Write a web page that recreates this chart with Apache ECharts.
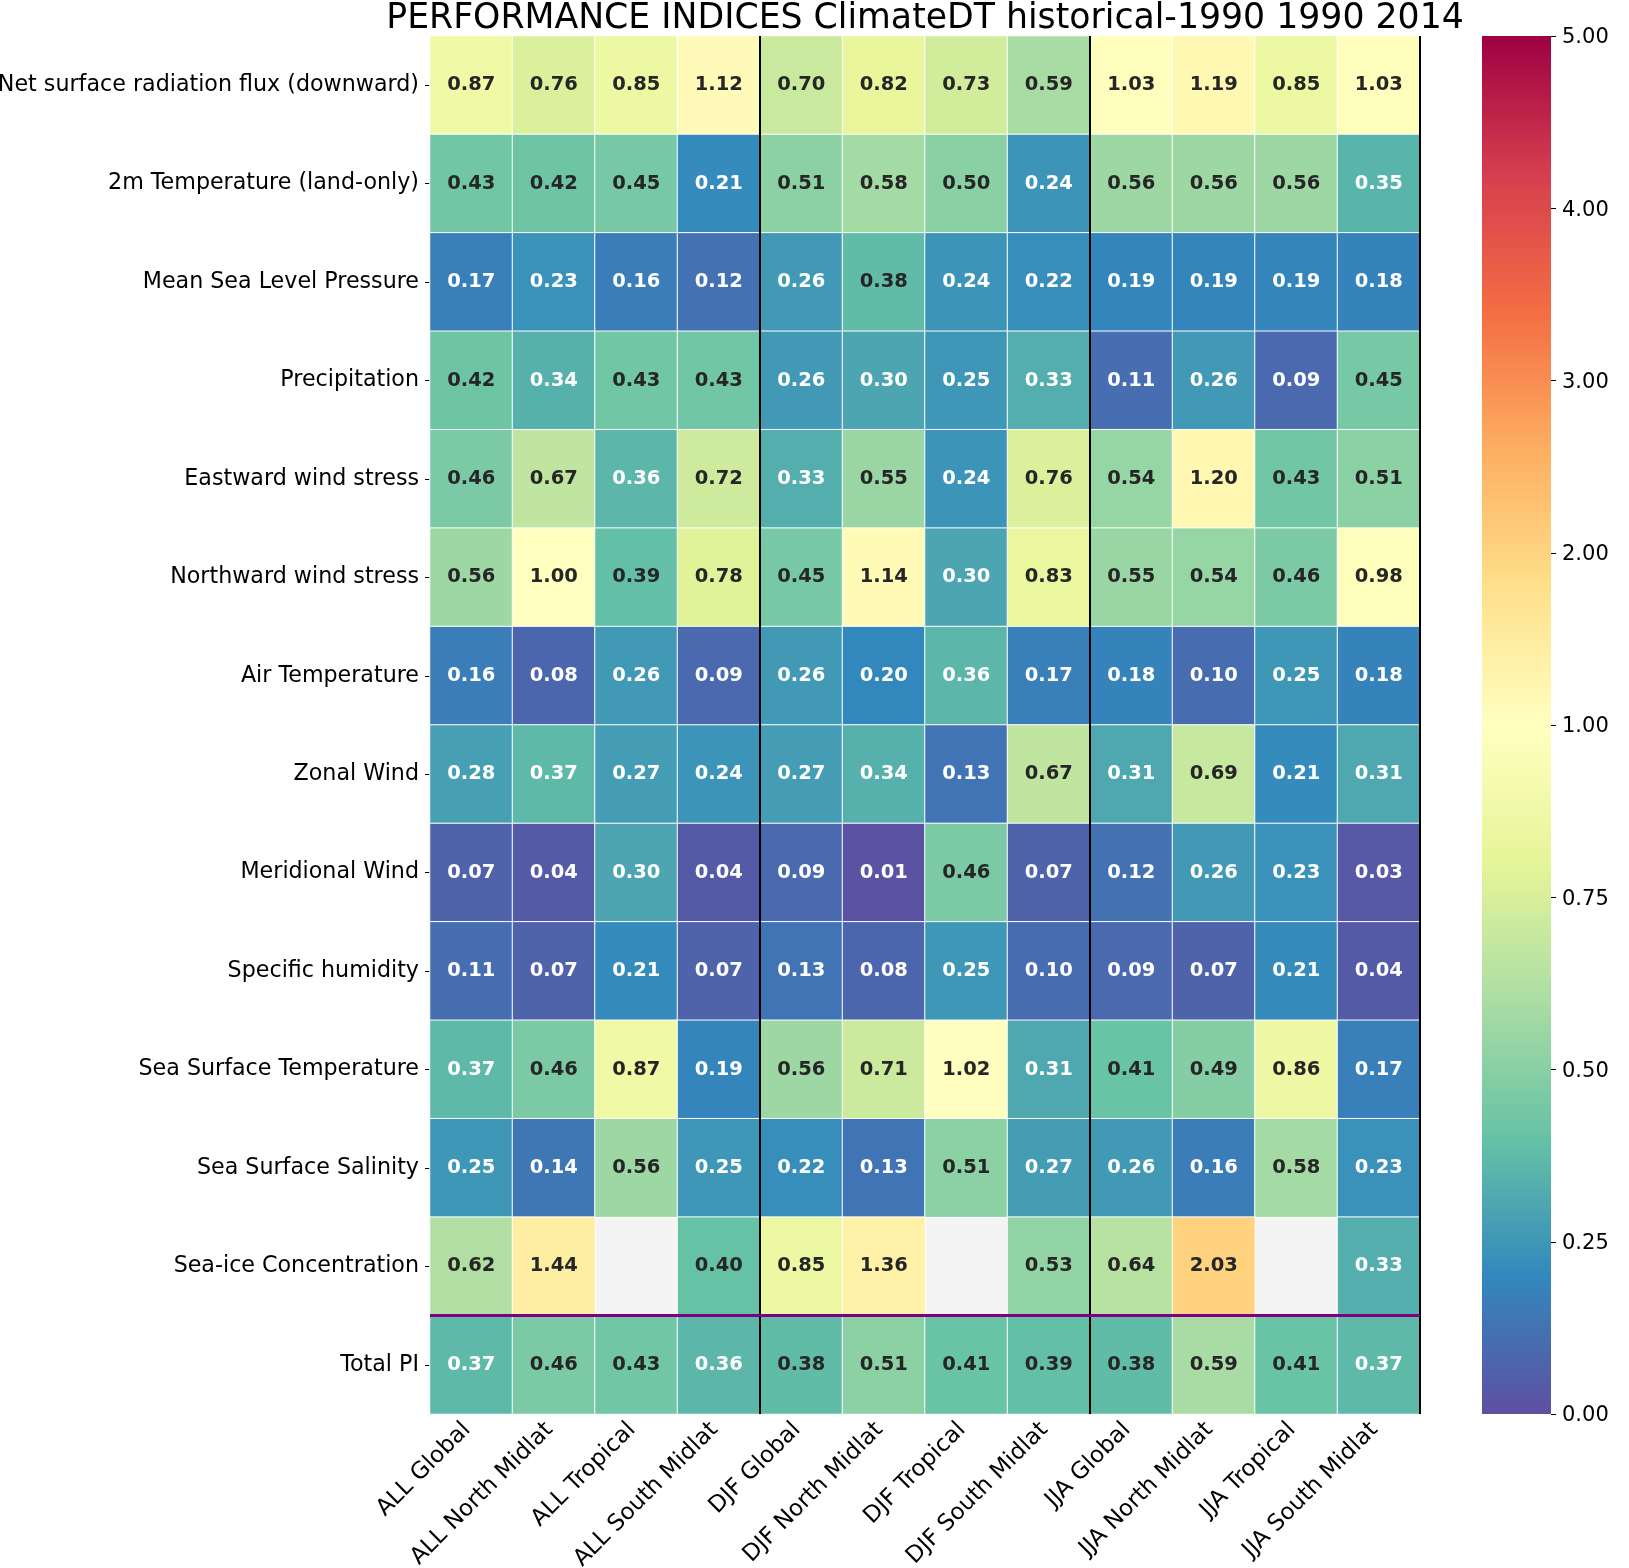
<!DOCTYPE html>
<html>
<head>
<meta charset="utf-8">
<title>Performance indices</title>
<script src="https://cdn.jsdelivr.net/npm/echarts@6/dist/echarts.min.js"></script>
<style>
  html, body { margin: 0; padding: 0; background: #fff; }
  #main { width: 1629px; height: 1568px; }
</style>
</head>
<body>
<div id="main"></div>
<script>
const chartTitle = 'PERFORMANCE INDICES ClimateDT historical-1990 1990 2014';

const columns = [
  'ALL Global', 'ALL North Midlat', 'ALL Tropical', 'ALL South Midlat',
  'DJF Global', 'DJF North Midlat', 'DJF Tropical', 'DJF South Midlat',
  'JJA Global', 'JJA North Midlat', 'JJA Tropical', 'JJA South Midlat'
];
const variables = [
  'Net surface radiation flux (downward)', '2m Temperature (land-only)',
  'Mean Sea Level Pressure', 'Precipitation', 'Eastward wind stress',
  'Northward wind stress', 'Air Temperature', 'Zonal Wind', 'Meridional Wind',
  'Specific humidity', 'Sea Surface Temperature', 'Sea Surface Salinity',
  'Sea-ice Concentration', 'Total PI'
];

const netRadiation = [0.87, 0.76, 0.85, 1.12, 0.70, 0.82, 0.73, 0.59, 1.03, 1.19, 0.85, 1.03];
const temperature2m = [0.43, 0.42, 0.45, 0.21, 0.51, 0.58, 0.50, 0.24, 0.56, 0.56, 0.56, 0.35];
const seaLevelPressure = [0.17, 0.23, 0.16, 0.12, 0.26, 0.38, 0.24, 0.22, 0.19, 0.19, 0.19, 0.18];
const precipitation = [0.42, 0.34, 0.43, 0.43, 0.26, 0.30, 0.25, 0.33, 0.11, 0.26, 0.09, 0.45];
const eastwardStress = [0.46, 0.67, 0.36, 0.72, 0.33, 0.55, 0.24, 0.76, 0.54, 1.20, 0.43, 0.51];
const northwardStress = [0.56, 1.00, 0.39, 0.78, 0.45, 1.14, 0.30, 0.83, 0.55, 0.54, 0.46, 0.98];
const airTemperature = [0.16, 0.08, 0.26, 0.09, 0.26, 0.20, 0.36, 0.17, 0.18, 0.10, 0.25, 0.18];
const zonalWind = [0.28, 0.37, 0.27, 0.24, 0.27, 0.34, 0.13, 0.67, 0.31, 0.69, 0.21, 0.31];
const meridionalWind = [0.07, 0.04, 0.30, 0.04, 0.09, 0.01, 0.46, 0.07, 0.12, 0.26, 0.23, 0.03];
const specificHumidity = [0.11, 0.07, 0.21, 0.07, 0.13, 0.08, 0.25, 0.10, 0.09, 0.07, 0.21, 0.04];
const seaSurfaceTemp = [0.37, 0.46, 0.87, 0.19, 0.56, 0.71, 1.02, 0.31, 0.41, 0.49, 0.86, 0.17];
const seaSurfaceSalinity = [0.25, 0.14, 0.56, 0.25, 0.22, 0.13, 0.51, 0.27, 0.26, 0.16, 0.58, 0.23];
const seaIce = [0.62, 1.44, null, 0.40, 0.85, 1.36, null, 0.53, 0.64, 2.03, null, 0.33];
const totalPI = [0.37, 0.46, 0.43, 0.36, 0.38, 0.51, 0.41, 0.39, 0.38, 0.59, 0.41, 0.37];

const rows = [
  netRadiation, temperature2m, seaLevelPressure, precipitation, eastwardStress,
  northwardStress, airTemperature, zonalWind, meridionalWind, specificHumidity,
  seaSurfaceTemp, seaSurfaceSalinity, seaIce, totalPI
];

// season separators and the line above the total row, in cell units
const seasonEdges = [4, 8, 12];
const totalEdge = 13;

const colorbarTicks = ['0.00', '0.25', '0.50', '0.75', '1.00', '2.00', '3.00', '4.00', '5.00'];

// Spectral_r
const spectral = ['#5e4fa2', '#3288bd', '#66c2a5', '#abdda4', '#e6f598', '#ffffbf',
  '#fee08b', '#fdae61', '#f46d43', '#d53e4f', '#9e0142'];

const FONT = '"DejaVu Sans"';

// color scale is centered on 1: 0..1 takes the lower half, 1..5 the upper half
function norm(v) {
  return v <= 1 ? v / 2 : 0.5 + (v - 1) / 8;
}

let cells = [];
rows.forEach((row, r) => {
  row.forEach((v, c) => {
    if (v === null) return;
    cells.push({
      value: [c, r, v, norm(v)],
      label: { color: v <= 0.37 ? '#ffffff' : '#262626' }
    });
  });
});

let dividers = [];
seasonEdges.forEach(x => {
  dividers.push({
    type: 'line', xAxisIndex: 1, yAxisIndex: 1, silent: true, showSymbol: false,
    clip: false, z: 5, lineStyle: { color: '#000', width: 2 },
    data: [[x, 0], [x, variables.length]]
  });
});
dividers.push({
  type: 'line', xAxisIndex: 1, yAxisIndex: 1, silent: true, showSymbol: false,
  clip: false, z: 6, lineStyle: { color: '#800080', width: 3 },
  data: [[0, totalEdge], [columns.length, totalEdge]]
});

let option = {
  animation: false,
  backgroundColor: '#fff',
  textStyle: { fontFamily: FONT },
  title: {
    text: chartTitle,
    left: 920,
    top: -4,
    textAlign: 'center',
    textStyle: { fontFamily: FONT, fontWeight: 'normal', fontSize: 34.7, color: '#000' }
  },
  grid: [
    {
      left: 430, top: 36, width: 990, height: 1378, outerBoundsMode: 'none',
      show: true, backgroundColor: '#f4f4f4', borderWidth: 0
    },
    { left: 1482, top: 36, width: 69, height: 1378, outerBoundsMode: 'none' }
  ],
  xAxis: [
    {
      type: 'category', gridIndex: 0, data: columns, position: 'bottom',
      axisLine: { show: false },
      axisTick: { show: true, alignWithLabel: true, length: 5, lineStyle: { color: '#000', width: 1 } },
      axisLabel: {
        interval: 0, rotate: 45, margin: 8, padding: [0, 6, 0, 0],
        fontSize: 23, fontFamily: FONT, color: '#000'
      },
      splitLine: { show: false }
    },
    { type: 'value', gridIndex: 0, min: 0, max: columns.length, show: false },
    { type: 'category', gridIndex: 1, data: ['cbar'], show: false }
  ],
  yAxis: [
    {
      type: 'category', gridIndex: 0, data: variables, inverse: true,
      axisLine: { show: false },
      axisTick: { show: true, alignWithLabel: true, length: 5, lineStyle: { color: '#000', width: 1 } },
      axisLabel: { interval: 0, margin: 11, fontSize: 22.2, fontFamily: FONT, color: '#000' },
      splitLine: { show: false }
    },
    { type: 'value', gridIndex: 0, min: 0, max: variables.length, inverse: true, show: false },
    {
      type: 'value', gridIndex: 1, position: 'right', min: 0, max: 1, interval: 0.125,
      name: chartTitle,
      nameLocation: 'middle',
      nameRotate: 90,
      nameGap: 80,
      nameTextStyle: { fontFamily: FONT, fontSize: 20.6, color: '#000' },
      axisLine: { show: false },
      axisTick: { show: true, length: 5, lineStyle: { color: '#000', width: 1 } },
      axisLabel: {
        margin: 11, fontSize: 21, lineHeight: 21, fontFamily: FONT, color: '#000',
        // digits sit high in the line box, push them down onto the tick
        verticalAlign: 'top', padding: [-8.5, 0, 0, 0],
        formatter: v => colorbarTicks[Math.round(v * 8)]
      },
      splitLine: { show: false }
    }
  ],
  visualMap: {
    show: false,
    seriesIndex: 0,
    dimension: 3,
    min: 0,
    max: 1,
    inRange: { color: spectral }
  },
  series: [
    {
      type: 'heatmap',
      xAxisIndex: 0,
      yAxisIndex: 0,
      data: cells,
      itemStyle: { borderColor: '#ffffff', borderWidth: 1 },
      emphasis: { disabled: true },
      label: {
        show: true,
        fontFamily: FONT,
        fontWeight: 'bold',
        fontSize: 19.5,
        formatter: p => p.value[2].toFixed(2)
      }
    },
    {
      type: 'bar',
      xAxisIndex: 2,
      yAxisIndex: 2,
      barWidth: '100%',
      silent: true,
      data: [1],
      itemStyle: {
        color: {
          type: 'linear', x: 0, y: 1, x2: 0, y2: 0,
          colorStops: spectral.map((c, i) => ({ offset: i / 10, color: c }))
        }
      }
    }
  ].concat(dividers)
};

let myChart = echarts.init(document.getElementById('main'));
myChart.setOption(option);
</script>
</body>
</html>
